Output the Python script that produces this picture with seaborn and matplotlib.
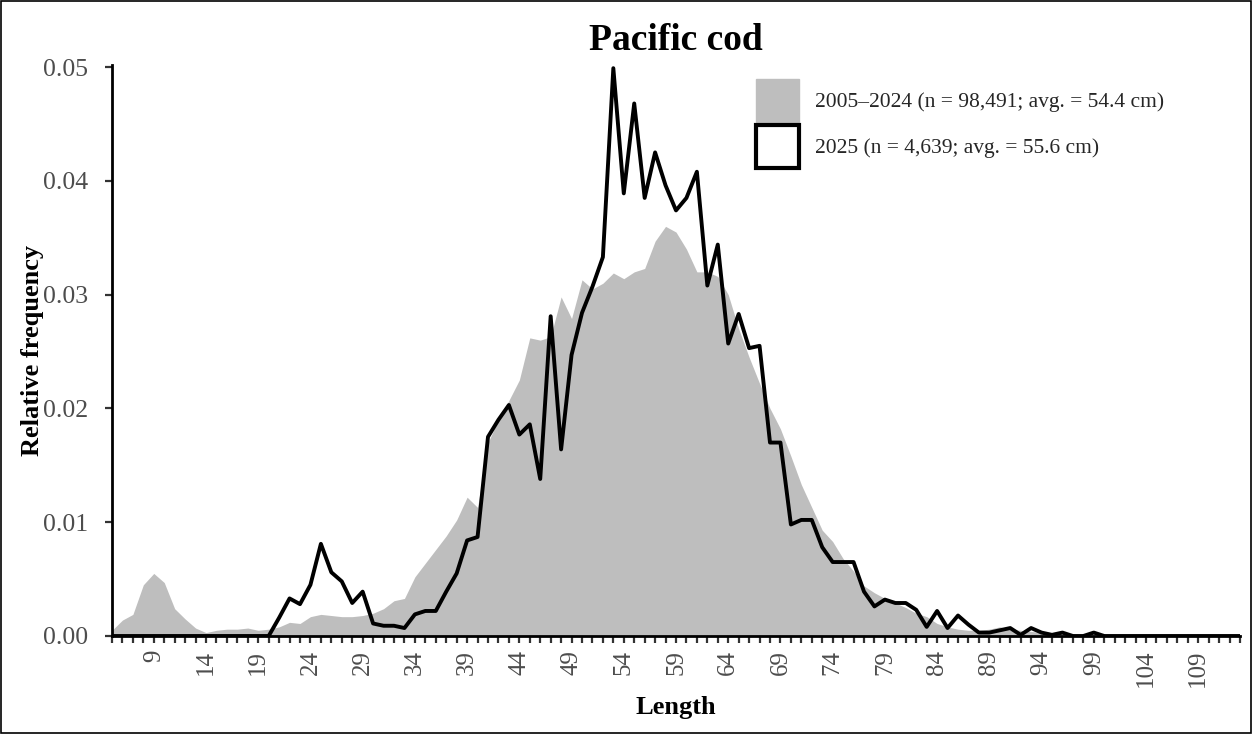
import numpy as np
import pandas as pd
import matplotlib
matplotlib.use("Agg")
import matplotlib.pyplot as plt
import seaborn as sns
from matplotlib.patches import Patch, Rectangle

# lengths (cm), 5..113
lengths = list(range(5, 114))

# 2005-2024 relative frequency (grey area)
hist_freq = [0.0005, 0.0014, 0.0019, 0.0045, 0.0055, 0.0047, 0.0024, 0.0015, 0.0007, 0.0003,  # 5-14
             0.0005, 0.0006, 0.0006, 0.0007, 0.0005, 0.0006, 0.0008, 0.0012, 0.0011, 0.0017,  # 15-24
             0.0019, 0.0018, 0.0017, 0.0017, 0.0018, 0.0020, 0.0024, 0.0031, 0.0033, 0.0052,  # 25-34
             0.0064, 0.0076, 0.0088, 0.0102, 0.0122, 0.0113, 0.0170, 0.0190, 0.0207, 0.0225,  # 35-44
             0.0262, 0.0260, 0.0263, 0.0298, 0.0279, 0.0313, 0.0305, 0.0310, 0.0319, 0.0314,  # 45-54
             0.0320, 0.0323, 0.0347, 0.0360, 0.0355, 0.0340, 0.0320, 0.0320, 0.0316, 0.0300,  # 55-64
             0.0270, 0.0245, 0.0222, 0.0200, 0.0182, 0.0158, 0.0133, 0.0113, 0.0093, 0.0083,  # 65-74
             0.0068, 0.0057, 0.0044, 0.0038, 0.0033, 0.0029, 0.0025, 0.0020, 0.0017, 0.0011,  # 75-84
             0.0008, 0.0006, 0.0005, 0.0005, 0.0006, 0.0008, 0.0006, 0.0005, 0.0004, 0.0003,  # 85-94
             0.0003, 0.0002, 0.0002, 0.0001, 0.0001, 0.0001, 0.0, 0.0, 0.0, 0.0,             # 95-104
             0.0, 0.0, 0.0, 0.0, 0.0, 0.0, 0.0, 0.0, 0.0]                                 # 105-113

# 2025 relative frequency (black line)
cur_freq = [0.0, 0.0, 0.0, 0.0, 0.0, 0.0, 0.0, 0.0, 0.0, 0.0,                              # 5-14
            0.0, 0.0, 0.0, 0.0, 0.0, 0.0, 0.0016, 0.0033, 0.0028, 0.0045,                   # 15-24
            0.0081, 0.0056, 0.0048, 0.0029, 0.0039, 0.0011, 0.0009, 0.0009, 0.0007, 0.0019, # 25-34
            0.0022, 0.0022, 0.0039, 0.0055, 0.0084, 0.0087, 0.0175, 0.0190, 0.0203, 0.0177, # 35-44
            0.0186, 0.0138, 0.0281, 0.0164, 0.0247, 0.0284, 0.0307, 0.0333, 0.0499, 0.0389, # 45-54
            0.0468, 0.0385, 0.0425, 0.0396, 0.0374, 0.0385, 0.0408, 0.0308, 0.0344, 0.0257, # 55-64
            0.0283, 0.0253, 0.0255, 0.0170, 0.0170, 0.0098, 0.0102, 0.0102, 0.0078, 0.0065, # 65-74
            0.0065, 0.0065, 0.0039, 0.0026, 0.0032, 0.0029, 0.0029, 0.0023, 0.0008, 0.0022, # 75-84
            0.0007, 0.0018, 0.0010, 0.0003, 0.0003, 0.0005, 0.0007, 0.0001, 0.0007, 0.0003, # 85-94
            0.0001, 0.0003, 0.0, 0.0, 0.0003, 0.0, 0.0, 0.0, 0.0, 0.0,                     # 95-104
            0.0, 0.0, 0.0, 0.0, 0.0, 0.0, 0.0, 0.0, 0.0]                                 # 105-113

label_ticks = list(range(9, 110, 5))
y_ticks = [0.00, 0.01, 0.02, 0.03, 0.04, 0.05]

hist_label = "2005\u20132024 (n = 98,491; avg. = 54.4 cm)"
cur_label = "2025 (n = 4,639; avg. = 55.6 cm)"

df = pd.DataFrame({"length": lengths, "hist": hist_freq, "cur": cur_freq})

sns.set_style("ticks")
plt.rcParams["font.family"] = ["Liberation Serif", "DejaVu Serif"]

fig = plt.figure(figsize=(12.52, 7.34), dpi=100)
ax = fig.add_axes([112 / 1252, 1 - 636 / 734, (1240 - 112) / 1252, (636 - 65) / 734])

ax.fill_between(df["length"], 0, df["hist"], color="#bebebe", linewidth=0, zorder=1)
sns.lineplot(data=df, x="length", y="cur", color="black", linewidth=2.8, ax=ax, zorder=3)

ax.set_xlim(5, 113)
ax.set_ylim(0, 0.05018)
ax.set_xticks(lengths, minor=True)
ax.set_xticks(label_ticks)
ax.set_xticklabels([str(t) for t in label_ticks], rotation=90, color="#4d4d4d", fontsize=18)
ax.set_yticks(y_ticks)
ax.set_yticklabels([f"{v:.2f}" for v in y_ticks], color="#4d4d4d", fontsize=18.5)
ax.tick_params(axis="x", which="both", length=5, width=1.6, color="#333333", pad=5)
ax.tick_params(axis="y", length=5, width=1.6, color="#333333", pad=12)

for s in ["top", "right"]:
    ax.spines[s].set_visible(False)
for s in ["left", "bottom"]:
    ax.spines[s].set_linewidth(2)
    ax.spines[s].set_color("black")

ax.set_xlabel("Length", fontsize=19, fontweight="bold", labelpad=6, color="black")
ax.set_ylabel("Relative frequency", fontsize=19, fontweight="bold", color="black")
ax.yaxis.set_label_coords(-0.0603, 0.5)
ax.set_title("Pacific cod", fontsize=27, fontweight="bold", pad=11, color="black")

handles = [Patch(facecolor="#bebebe", edgecolor="#bebebe", label=hist_label),
           Patch(facecolor="white", edgecolor="black", linewidth=3, label=cur_label)]
ax.legend(handles=handles, loc="upper left", bbox_to_anchor=(0.554, 1.01), frameon=False,
          fontsize=15.5, handlelength=2.0, handleheight=2.7, handletextpad=0.75, labelspacing=0.15)

fig.add_artist(Rectangle((0.0008, 0.0008), 0.9984, 0.9984, transform=fig.transFigure,
                         fill=False, edgecolor="black", linewidth=1.2))

fig.savefig("out.png", dpi=100)
